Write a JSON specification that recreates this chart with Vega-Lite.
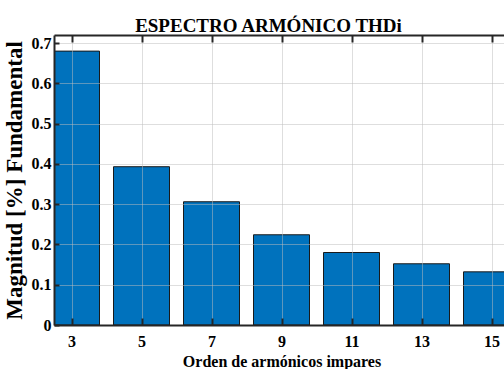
{
  "$schema": "https://vega.github.io/schema/vega-lite/v6.json",
  "width": 455,
  "height": 290,
  "autosize": {"type": "none"},
  "padding": {"left": 54, "top": 35, "right": 0, "bottom": 44},
  "background": "white",
  "config": {
    "view": {"stroke": null},
    "font": "Liberation Serif",
    "axis": {
      "labelFont": "Liberation Serif",
      "labelFontWeight": "bold",
      "labelFontSize": 16,
      "labelColor": "#000000",
      "titleFont": "Liberation Serif",
      "titleFontWeight": "bold",
      "titleColor": "#000000",
      "domainColor": "#262626",
      "domainWidth": 2,
      "tickColor": "#262626",
      "tickWidth": 2,
      "gridColor": "#bdbdbd",
      "gridDash": [1, 1],
      "gridWidth": 1
    }
  },
  "title": {
    "text": "ESPECTRO ARMÓNICO THDi",
    "font": "Liberation Serif",
    "fontSize": 19,
    "fontWeight": "bold",
    "color": "#000000",
    "anchor": "middle",
    "dx": -13,
    "offset": -2
  },
  "data": {
    "values": [
      {"orden": 3, "magnitud": 0.68},
      {"orden": 5, "magnitud": 0.393},
      {"orden": 7, "magnitud": 0.306},
      {"orden": 9, "magnitud": 0.224},
      {"orden": 11, "magnitud": 0.18},
      {"orden": 13, "magnitud": 0.152},
      {"orden": 15, "magnitud": 0.132}
    ]
  },
  "layer": [
    {
      "mark": {"type": "bar", "size": 56, "clip": true, "color": "#0072BD", "stroke": "#1a1a1a", "strokeWidth": 1},
      "encoding": {
        "x": {
          "field": "orden",
          "type": "quantitative",
          "scale": {"domain": [2.5, 15.5], "nice": false, "zero": false, "padding": 0},
          "axis": {
            "orient": "bottom",
            "values": [3, 5, 7, 9, 11, 13, 15],
            "grid": true,
            "tickSize": -7,
            "labelPadding": 15,
            "title": "Orden de armónicos impares",
            "titleFontSize": 16,
            "titlePadding": 4,
            "zindex": 1
          }
        },
        "y": {
          "field": "magnitud",
          "type": "quantitative",
          "scale": {"domain": [0, 0.72], "nice": false},
          "axis": {
            "orient": "left",
            "values": [0, 0.1, 0.2, 0.3, 0.4, 0.5, 0.6, 0.7],
            "format": ".1~f",
            "grid": true,
            "tickSize": -5,
            "labelPadding": 8,
            "title": "Magnitud [%] Fundamental",
            "titleFontSize": 23,
            "titlePadding": 5,
            "zindex": 1
          }
        }
      }
    },
    {
      "mark": {"type": "bar", "size": 56, "clip": true, "opacity": 0},
      "encoding": {
        "x": {
          "field": "orden",
          "type": "quantitative",
          "axis": {
            "orient": "top",
            "values": [3, 5, 7, 9, 11, 13, 15],
            "grid": false,
            "labels": false,
            "tickSize": -7,
            "title": null,
            "zindex": 1
          }
        },
        "y": {
          "field": "magnitud",
          "type": "quantitative",
          "axis": {
            "orient": "right",
            "values": [0, 0.1, 0.2, 0.3, 0.4, 0.5, 0.6, 0.7],
            "grid": false,
            "labels": false,
            "tickSize": -5,
            "title": null,
            "zindex": 1
          }
        }
      }
    }
  ],
  "resolve": {"axis": {"x": "independent", "y": "independent"}}
}
